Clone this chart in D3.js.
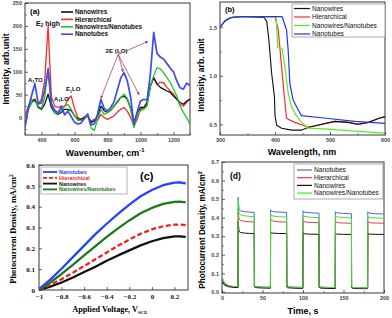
<!DOCTYPE html>
<html>
<head>
<meta charset="utf-8">
<script src="https://cdn.jsdelivr.net/npm/d3@7"></script>
<style>
  body { margin: 0; background: #fff; }
  svg { display: block; }
  .sans { font-family: "Liberation Sans", Arial, sans-serif; }
  .serif { font-family: "Liberation Serif", "Times New Roman", serif; }
</style>
</head>
<body>
<svg id="chart" width="392" height="318"></svg>
<script>

// ---------- (a) Raman spectra ----------
const ramanShift = [300,320,340,360,380,400,420,440,460,480,500,520,540,560,580,600,620,640,660,680,
    700,720,740,760,780,800,820,840,860,880,900,920,940,960,980,1000,1020,1040,1060,1080,
    1100,1120,1140,1160,1180,1200,1220,1240,1260,1280,1300];
const ramanNanowires = [-11,18,33,40,22,18,30,51,22,10,7,11,18,18,15,4,-3,-4,0,4,
    -11,-7,4,25,15,11,16,25,34,44,47,40,20,-11,11,22,22,33,69,87,
    73,66,62,58,55,47,40,33,29,36,40];
const ramanHierarchical = [4,25,40,36,30,40,84,200,45,25,22,25,24,40,47,20,0,-4,2,4,
    -8,-4,-6,7,0,-4,0,4,12,18,22,14,0,-18,-4,18,22,29,69,87,
    73,77,76,66,58,51,40,29,25,33,42];
const ramanMixed = [-7,18,33,36,25,20,45,109,30,10,8,15,25,29,18,4,-6,-6,-2,4,
    -22,-28,-4,18,7,11,16,25,36,44,51,42,20,-22,4,15,18,25,69,91,
    109,106,98,87,77,62,47,25,11,0,-15];
const ramanNanotubes = [-22,20,48,74,30,32,62,105,30,16,10,24,6,14,2,-10,-14,-12,-2,8,
    -16,-14,8,40,20,15,22,35,60,86,98,80,45,-15,12,36,40,38,95,186,
    140,132,128,118,108,100,80,65,62,75,70];

// ---------- (b) absorbance ----------
const absNanowiresWl = [300,310,320,340,380,385,389,394,399,400,403,412,430,448,461,485,509,533,551,570,588,600];
const absNanowires   = [1.5,1.57,1.6,1.61,1.6,1.56,1.36,1.02,0.78,0.59,0.49,0.46,0.44,0.44,0.47,0.5,0.53,0.52,0.5,0.52,0.56,0.58];
const absHierWl = [300,310,320,340,400,406,412,417,421,436,461,485,509,533,551,570,588,600];
const absHier   = [1.5,1.57,1.6,1.61,1.61,1.47,1.09,0.78,0.56,0.52,0.47,0.5,0.53,0.52,0.5,0.52,0.56,0.58];
const absMixedWl = [300,310,320,340,402,405,413,418,424,430,439,448,461,497,545,600];
const absMixed   = [1.5,1.57,1.6,1.61,1.61,1.29,1.28,1.09,0.82,0.68,0.59,0.52,0.46,0.45,0.43,0.41];
const absTubesWl = [300,310,320,340,413,421,424,427,433,442,448,497,545,600];
const absTubes   = [1.5,1.57,1.6,1.61,1.61,1.47,1.26,0.92,0.75,0.65,0.59,0.56,0.53,0.51];

// ---------- (c) photocurrent vs voltage ----------
const voltage = [-1,-0.9,-0.8,-0.7,-0.6,-0.5,-0.4,-0.3,-0.2,-0.1,0,0.1,0.2,0.25,0.3];
const jvNanotubes    = [0.005,0.05,0.102,0.158,0.213,0.268,0.318,0.365,0.41,0.45,0.48,0.503,0.515,0.516,0.512];
const jvHierarchical = [0.002,0.025,0.052,0.083,0.115,0.148,0.18,0.212,0.242,0.27,0.291,0.306,0.314,0.314,0.311];
const jvNanowires    = [0.0,0.016,0.036,0.06,0.086,0.112,0.14,0.166,0.19,0.214,0.234,0.249,0.257,0.257,0.255];
const jvMixed        = [0.003,0.036,0.077,0.121,0.166,0.211,0.255,0.296,0.334,0.368,0.394,0.413,0.423,0.424,0.421];

// ---------- (d) chopped-light transient ----------
const time = [0,3,8,14,19.8, 20,21,23,28,34,39.8, 40,41,50,59.8, 60,61,64,70,79.8, 80,81,90,99.8,
    100,101,104,110,119.8, 120,121,130,139.8, 140,141,144,150,159.8, 160,161,170,179.8, 180,181,184,190,199.8];
const itNanotubes = [0.07,0.045,0.032,0.028,0.026, 0.51,0.445,0.437,0.432,0.43,0.428, 0.035,0.028,0.026,0.025,
    0.442,0.435,0.432,0.43,0.428, 0.033,0.027,0.025,0.024, 0.437,0.431,0.428,0.426,0.424,
    0.032,0.026,0.024,0.023, 0.432,0.427,0.425,0.423,0.421, 0.03,0.024,0.022,0.021, 0.432,0.426,0.423,0.421,0.42];
const itHierarchical = [0.06,0.04,0.03,0.026,0.024, 0.45,0.392,0.385,0.38,0.378,0.377, 0.03,0.025,0.023,0.022,
    0.392,0.385,0.381,0.378,0.376, 0.028,0.024,0.022,0.021, 0.385,0.379,0.376,0.374,0.373,
    0.027,0.023,0.021,0.02, 0.382,0.376,0.373,0.371,0.37, 0.026,0.022,0.02,0.019, 0.38,0.375,0.372,0.371,0.37];
const itNanowires = [0.055,0.037,0.028,0.025,0.023, 0.38,0.326,0.32,0.317,0.315,0.314, 0.028,0.023,0.021,0.02,
    0.322,0.318,0.316,0.315,0.314, 0.026,0.022,0.02,0.019, 0.318,0.314,0.312,0.311,0.31,
    0.025,0.021,0.019,0.018, 0.316,0.312,0.311,0.31,0.31, 0.024,0.02,0.018,0.017, 0.315,0.312,0.311,0.31,0.31];
const itMixed = [0.085,0.05,0.035,0.03,0.028, 0.5,0.425,0.415,0.41,0.407,0.405, 0.035,0.028,0.026,0.025,
    0.422,0.412,0.408,0.405,0.403, 0.033,0.027,0.025,0.024, 0.415,0.408,0.405,0.402,0.4,
    0.032,0.026,0.024,0.023, 0.412,0.406,0.403,0.401,0.399, 0.03,0.024,0.022,0.021, 0.408,0.402,0.4,0.398,0.397];


const svg = d3.select("#chart");
const defs = svg.append("defs");

// draws a boxed frame with inward major/minor ticks (Origin style)
function drawAxes(g, x, y, o) {
    const x0 = x.range()[0], x1 = x.range()[1];
    const y0 = y.range()[0], y1 = y.range()[1];

    const xa = g.append("g").attr("class", o.font)
        .attr("transform", "translate(0," + y0 + ")")
        .call(d3.axisBottom(x).tickValues(o.xTicks).tickFormat(o.xFmt)
            .tickSizeInner(-3).tickSizeOuter(0).tickPadding(o.pad));
    const ya = g.append("g").attr("class", o.font)
        .attr("transform", "translate(" + x0 + ",0)")
        .call(d3.axisLeft(y).tickValues(o.yTicks).tickFormat(o.yFmt)
            .tickSizeInner(-3).tickSizeOuter(0).tickPadding(o.pad));
    [xa, ya].forEach(a => {
        a.select(".domain").remove();
        a.selectAll("line").attr("stroke", "#222").attr("stroke-width", 0.7);
        a.selectAll("text").attr("font-size", o.tickSize).attr("fill", o.tickColor)
            .attr("font-weight", o.tickWeight);
    });

    if (o.xMinor) {
        g.append("g").attr("transform", "translate(0," + y0 + ")")
            .call(d3.axisBottom(x).tickValues(o.xMinor).tickFormat("").tickSizeInner(-1.8).tickSizeOuter(0))
            .call(a => a.select(".domain").remove())
            .selectAll("line").attr("stroke", "#222").attr("stroke-width", 0.6);
    }
    if (o.yMinor) {
        g.append("g").attr("transform", "translate(" + x0 + ",0)")
            .call(d3.axisLeft(y).tickValues(o.yMinor).tickFormat("").tickSizeInner(-1.8).tickSizeOuter(0))
            .call(a => a.select(".domain").remove())
            .selectAll("line").attr("stroke", "#222").attr("stroke-width", 0.6);
    }

    g.append("rect")
        .attr("x", x0).attr("y", y1)
        .attr("width", x1 - x0).attr("height", y0 - y1)
        .attr("fill", "none").attr("stroke", "#222").attr("stroke-width", 0.9);

    defs.append("clipPath").attr("id", o.clip)
        .append("rect").attr("x", x0).attr("y", y1).attr("width", x1 - x0).attr("height", y0 - y1);
}

function drawSeries(g, x, y, xs, ys, color, width, clip, dash) {
    const line = d3.line()
        .x((d, i) => x(xs[i]))
        .y(d => y(d));
    g.append("path")
        .datum(ys)
        .attr("clip-path", "url(#" + clip + ")")
        .attr("fill", "none")
        .attr("stroke", color)
        .attr("stroke-width", width)
        .attr("stroke-linejoin", "round")
        .attr("stroke-dasharray", dash || null)
        .attr("d", line);
}


/* ================= panel (a) ================= */
{
    const g = svg.append("g");
    const x = d3.scaleLinear().domain([300, 1300]).range([25, 190]);
    const y = d3.scaleLinear().domain([-38, 250]).range([135, 3]);

    drawAxes(g, x, y, {
        font: "sans", clip: "clipA", pad: 3, tickSize: 5.5, tickColor: "#444", tickWeight: "bold",
        xTicks: [400, 600, 800, 1000, 1200], xMinor: [300, 500, 700, 900, 1100, 1300],
        yTicks: [0, 50, 100, 150, 200, 250], yMinor: [-25, 25, 75, 125, 175, 225],
        xFmt: d3.format("d"), yFmt: d3.format("d")
    });

    drawSeries(g, x, y, ramanShift, ramanHierarchical, "#ff2a2a", 1.3, "clipA");
    drawSeries(g, x, y, ramanShift, ramanNanowires, "#111", 1.3, "clipA");
    drawSeries(g, x, y, ramanShift, ramanMixed, "#22c322", 1.3, "clipA");
    drawSeries(g, x, y, ramanShift, ramanNanotubes, "#3a4cf2", 1.7, "clipA");

    // peak labels
    const ann = g.append("g").attr("class", "sans").attr("font-weight", "bold").attr("fill", "#111");
    function peak(px, py, main, sub, rest, size) {
        const t = ann.append("text").attr("x", x(px)).attr("y", y(py)).attr("font-size", size);
        t.append("tspan").text(main);
        t.append("tspan").attr("font-size", size * 0.65).attr("dy", 1.5).text(sub);
        t.append("tspan").attr("dy", -1.5).text(rest);
    }
    peak(367, 200, "E", "2", " high", 7);
    peak(318, 78, "A", "1", "TO", 6);
    peak(476, 37, "A", "1", "LO", 6);
    peak(548, 57, "E", "1", "LO", 6);

    ann.append("text").attr("x", x(855)).attr("y", y(142))
        .attr("text-anchor", "middle").attr("font-size", 6.2).text("2E (LO)");

    defs.append("marker").attr("id", "arrowA")
        .attr("viewBox", "0 0 6 6").attr("refX", 5).attr("refY", 3)
        .attr("markerWidth", 4).attr("markerHeight", 4).attr("orient", "auto")
        .append("path").attr("d", "M0,0 L6,3 L0,6 z").attr("fill", "#a3456f");

    const arrowTargets = [[760, 42], [894, 100], [991, 50], [1045, 166]];
    arrowTargets.forEach(t => {
        g.append("line")
            .attr("x1", x(865)).attr("y1", y(138))
            .attr("x2", x(t[0])).attr("y2", y(t[1]))
            .attr("stroke", "#a3456f").attr("stroke-width", 0.8)
            .attr("marker-end", "url(#arrowA)");
    });

    // legend
    const leg = g.append("g").attr("class", "sans");
    const items = [["Nanowires", "#111"], ["Hierarchical", "#ff2a2a"],
        ["Nanowires/Nanotubes", "#22c322"], ["Nanotubes", "#3a4cf2"]];
    items.forEach((d, i) => {
        const ly = 12 + i * 7.4;
        leg.append("line").attr("x1", 61).attr("x2", 73).attr("y1", ly).attr("y2", ly)
            .attr("stroke", d[1]).attr("stroke-width", 1.6);
        leg.append("text").attr("x", 75).attr("y", ly + 2.2).attr("font-size", 6.4)
            .attr("font-weight", "bold").attr("fill", "#111").text(d[0]);
    });

    g.append("text").attr("class", "sans").attr("x", 30).attr("y", 14)
        .attr("font-size", 8).attr("font-weight", "bold").text("(a)");

    const xt = g.append("text").attr("class", "sans").attr("x", 105).attr("y", 156)
        .attr("text-anchor", "middle").attr("font-size", 9).attr("font-weight", "bold");
    xt.append("tspan").text("Wavenumber, cm");
    xt.append("tspan").attr("font-size", 6).attr("dy", -4).text("-1");

    g.append("text").attr("class", "sans")
        .attr("transform", "translate(9,69) rotate(-90)")
        .attr("text-anchor", "middle").attr("font-size", 8.6).attr("font-weight", "bold")
        .text("Intensity, arb.unit");
}


/* ================= panel (b) ================= */
{
    const g = svg.append("g");
    const x = d3.scaleLinear().domain([300, 600]).range([220, 385]);
    const y = d3.scaleLinear().domain([0.39, 1.76]).range([135, 2]);

    drawAxes(g, x, y, {
        font: "sans", clip: "clipB", pad: 3, tickSize: 5.5, tickColor: "#444", tickWeight: "bold",
        xTicks: [300, 400, 500, 600], xMinor: [350, 450, 550],
        yTicks: [0.5, 1.0, 1.5], yMinor: [0.75, 1.25],
        xFmt: d3.format("d"), yFmt: d3.format(".1f")
    });

    drawSeries(g, x, y, absHierWl, absHier, "#ff2a2a", 1.2, "clipB");
    drawSeries(g, x, y, absNanowiresWl, absNanowires, "#111", 1.1, "clipB");
    drawSeries(g, x, y, absMixedWl, absMixed, "#55ee22", 1.2, "clipB");
    drawSeries(g, x, y, absTubesWl, absTubes, "#2233ee", 1.2, "clipB");

    const leg = g.append("g").attr("class", "sans");
    leg.append("rect").attr("x", 292).attr("y", 4).attr("width", 93).attr("height", 33)
        .attr("fill", "#fff").attr("stroke", "#888").attr("stroke-width", 0.7);
    const items = [["Nanowires", "#111"], ["Hierarchical", "#ff2a2a"],
        ["Nanowires/Nanotubes", "#55ee22"], ["Nanotubes", "#2233ee"]];
    items.forEach((d, i) => {
        const ly = 8.5 + i * 8.5;
        leg.append("line").attr("x1", 294).attr("x2", 310).attr("y1", ly).attr("y2", ly)
            .attr("stroke", d[1]).attr("stroke-width", 1.2);
        leg.append("text").attr("x", 312).attr("y", ly + 2.3).attr("font-size", 6.6)
            .attr("fill", "#111").text(d[0]);
    });

    g.append("text").attr("class", "sans").attr("x", 225).attr("y", 12)
        .attr("font-size", 7.5).attr("font-weight", "bold").text("(b)");

    g.append("text").attr("class", "sans").attr("x", 302).attr("y", 155)
        .attr("text-anchor", "middle").attr("font-size", 9).attr("font-weight", "bold")
        .text("Wavelength, nm");

    g.append("text").attr("class", "sans")
        .attr("transform", "translate(204,75) rotate(-90)")
        .attr("text-anchor", "middle").attr("font-size", 8.6).attr("font-weight", "bold")
        .text("Intensity, arb. unit");
}


/* ================= panel (c) ================= */
{
    const g = svg.append("g");
    const x = d3.scaleLinear().domain([-1, 0.32]).range([39, 188]);
    const y = d3.scaleLinear().domain([0, 0.6]).range([290, 165]);

    drawAxes(g, x, y, {
        font: "serif", clip: "clipC", pad: 4, tickSize: 7, tickColor: "#111", tickWeight: "bold",
        xTicks: [-1, -0.8, -0.6, -0.4, -0.2, 0, 0.2], xMinor: null,
        yTicks: [0, 0.1, 0.2, 0.3, 0.4, 0.5, 0.6], yMinor: null,
        xFmt: d => d3.format("")(+d.toFixed(1)), yFmt: d => d3.format("")(+d.toFixed(1))
    });

    drawSeries(g, x, y, voltage, jvNanowires, "#111", 2.3, "clipC");
    drawSeries(g, x, y, voltage, jvHierarchical, "#ee2222", 2.3, "clipC", "5,2.5");
    drawSeries(g, x, y, voltage, jvMixed, "#1b7a1b", 2.3, "clipC");
    drawSeries(g, x, y, voltage, jvNanotubes, "#2244ff", 2.3, "clipC");

    const leg = g.append("g").attr("class", "sans");
    leg.append("rect").attr("x", 41).attr("y", 167).attr("width", 86).attr("height", 27)
        .attr("fill", "#fff").attr("stroke", "#999").attr("stroke-width", 0.7);
    const items = [["Nanotubes", "#2244ff", null], ["Hierarchical", "#ee2222", "4,2"],
        ["Nanowires", "#111", null], ["Nanowires/Nanotubes", "#1b7a1b", null]];
    items.forEach((d, i) => {
        const ly = 172 + i * 5.8;
        leg.append("line").attr("x1", 43).attr("x2", 57).attr("y1", ly).attr("y2", ly)
            .attr("stroke", d[1]).attr("stroke-width", 1.8).attr("stroke-dasharray", d[2]);
        leg.append("text").attr("x", 59).attr("y", ly + 2).attr("font-size", 5.4)
            .attr("font-weight", "bold").attr("fill", d[1]).text(d[0]);
    });

    g.append("text").attr("class", "sans").attr("x", 140).attr("y", 180)
        .attr("font-size", 11).attr("font-weight", "bold").text("(c)");

    const xt = g.append("text").attr("class", "serif").attr("x", 110).attr("y", 312)
        .attr("text-anchor", "middle").attr("font-size", 8.2).attr("font-weight", "bold");
    xt.append("tspan").text("Applied Voltage, V");
    xt.append("tspan").attr("font-size", 5).attr("dy", 2).text("SCE");

    const yt = g.append("text").attr("class", "serif")
        .attr("transform", "translate(16,229) rotate(-90)")
        .attr("text-anchor", "middle").attr("font-size", 8.4).attr("font-weight", "bold");
    yt.append("tspan").text("Photocurrent Density, mA/cm");
    yt.append("tspan").attr("font-size", 5.5).attr("dy", -3.5).text("2");
}


/* ================= panel (d) ================= */
{
    const g = svg.append("g");
    const x = d3.scaleLinear().domain([0, 200]).range([222, 384]);
    const y = d3.scaleLinear().domain([-0.006, 0.7]).range([293, 162]);

    drawAxes(g, x, y, {
        font: "sans", clip: "clipD", pad: 3, tickSize: 5.5, tickColor: "#444", tickWeight: "bold",
        xTicks: [0, 50, 100, 150, 200], xMinor: [25, 75, 125, 175],
        yTicks: [0, 0.1, 0.2, 0.3, 0.4, 0.5, 0.6, 0.7], yMinor: [0.05, 0.15, 0.25, 0.35, 0.45, 0.55, 0.65],
        xFmt: d3.format("d"), yFmt: d3.format(".1f")
    });

    drawSeries(g, x, y, time, itNanotubes, "#5060ee", 1.0, "clipD");
    drawSeries(g, x, y, time, itHierarchical, "#f03a4a", 1.0, "clipD");
    drawSeries(g, x, y, time, itNanowires, "#111", 1.0, "clipD");
    drawSeries(g, x, y, time, itMixed, "#44e033", 1.0, "clipD");

    const leg = g.append("g").attr("class", "sans");
    leg.append("rect").attr("x", 294).attr("y", 164).attr("width", 89).attr("height", 35)
        .attr("fill", "#fff").attr("stroke", "#888").attr("stroke-width", 0.7);
    const items = [["Nanotubes", "#5060ee"], ["Hierarchical", "#f03a4a"],
        ["Nanowires", "#111"], ["Nanowires/Nanotubes", "#44e033"]];
    items.forEach((d, i) => {
        const ly = 170 + i * 7.7;
        leg.append("line").attr("x1", 297).attr("x2", 312).attr("y1", ly).attr("y2", ly)
            .attr("stroke", d[1]).attr("stroke-width", 1.2);
        leg.append("text").attr("x", 314).attr("y", ly + 2.3).attr("font-size", 6.6)
            .attr("fill", "#111").text(d[0]);
    });

    g.append("text").attr("class", "sans").attr("x", 230).attr("y", 179)
        .attr("font-size", 8.5).attr("font-weight", "bold").text("(d)");

    g.append("text").attr("class", "sans").attr("x", 303).attr("y", 314)
        .attr("text-anchor", "middle").attr("font-size", 9).attr("font-weight", "bold")
        .text("Time, s");

    const yt = g.append("text").attr("class", "sans")
        .attr("transform", "translate(205,230) rotate(-90)")
        .attr("text-anchor", "middle").attr("font-size", 8.2).attr("font-weight", "bold");
    yt.append("tspan").text("Photocurrent Density, mA/cm");
    yt.append("tspan").attr("font-size", 5.5).attr("dy", -3.5).text("2");
}

</script>
</body>
</html>
